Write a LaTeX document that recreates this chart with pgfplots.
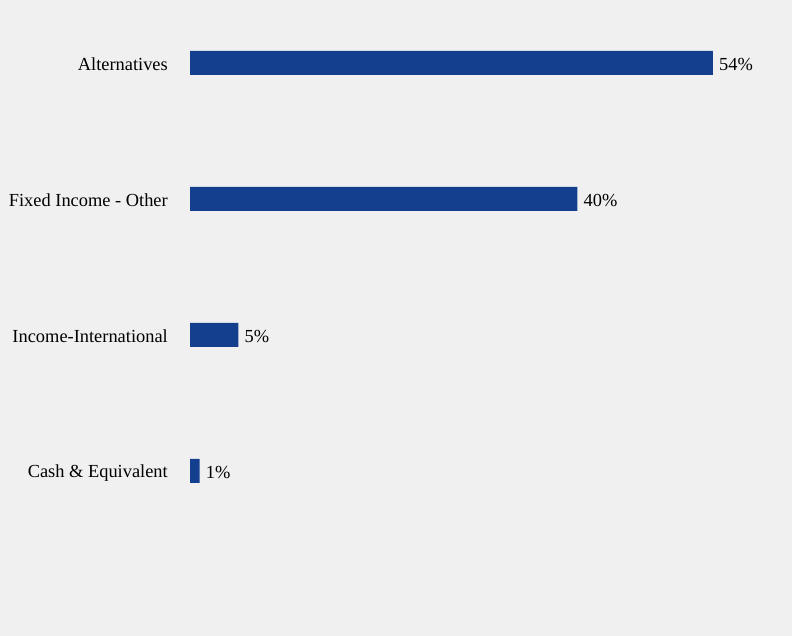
\documentclass[border=0pt]{standalone}
\usepackage{pgfplots}
\pgfplotsset{compat=1.18}
\usepackage{fontspec}
\setmainfont{Liberation Serif}
\definecolor{bg}{HTML}{F0F0F0}
\definecolor{barblue}{HTML}{143F8F}
\begin{document}
\begin{tikzpicture}
\fill[bg] (0,0) rectangle (792bp,636bp);
\begin{axis}[
  at={(190bp,110.6bp)}, anchor=south west,
  scale only axis,
  width=523bp, height=516.8bp,
  xmin=0, xmax=54,
  ymin=-0.4, ymax=3.4,
  xbar, bar width=24bp,
  axis line style={draw=none},
  hide x axis,
  ytick={0,1,2,3},
  yticklabels={Cash \& Equivalent, Income-International, Fixed Income - Other, Alternatives},
  major tick length=0pt,
  yticklabel style={font=\fontsize{18.4bp}{22bp}\selectfont, anchor=east, inner sep=0pt, xshift=-22bp, yshift=-1.6bp},
  nodes near coords={\pgfmathprintnumber[assume math mode=true]{\pgfplotspointmeta}\%},
  point meta=x,
  every node near coord/.append style={font=\fontsize{18.4bp}{22bp}\selectfont, anchor=west, inner sep=0pt, xshift=6bp, yshift=-1.6bp},
  clip=false,
]
\addplot[fill=barblue, draw=none] coordinates {(1,0) (5,1) (40,2) (54,3)};
\end{axis}
\end{tikzpicture}
\end{document}
